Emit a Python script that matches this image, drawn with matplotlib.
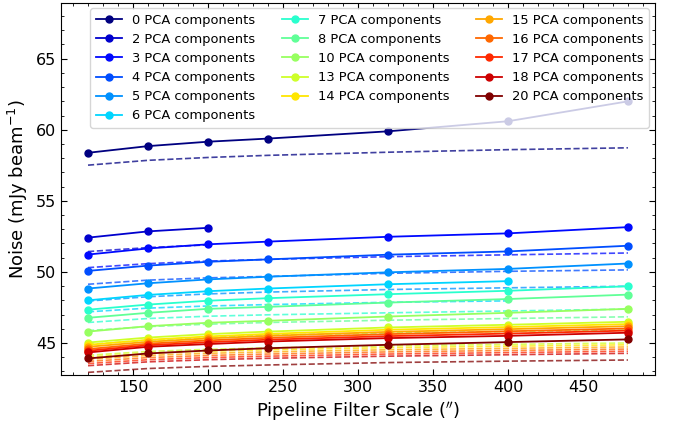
import numpy as np
import matplotlib
matplotlib.use("Agg")
import matplotlib.pyplot as plt
from matplotlib.ticker import MultipleLocator

scales = [120, 160, 200, 240, 320, 400, 480]
n_pca = [0, 2, 3, 4, 5, 6, 7, 8, 10, 13, 14, 15, 16, 17, 18, 20]

# measured noise (solid lines)
measured = {
	0: [58.38, 58.85, 59.16, 59.38, 59.89, 60.60, 62.00],
	2: [52.41, 52.85, 53.10],
	3: [51.22, 51.65, 51.94, 52.13, 52.47, 52.71, 53.15],
	4: [50.07, 50.44, 50.71, 50.88, 51.21, 51.44, 51.84],
	5: [48.83, 49.20, 49.47, 49.66, 49.97, 50.21, 50.59],
	6: [48.00, 48.38, 48.64, 48.83, 49.13, 49.35],
	7: [47.34, 47.70, 47.97, 48.15, 48.43, 48.67, 48.99],
	8: [46.77, 47.12, 47.40, 47.54, 47.84, 48.09, 48.40],
	10: [45.80, 46.18, 46.42, 46.56, 46.86, 47.12, 47.40],
	13: [45.03, 45.38, 45.62, 45.80, 46.09, 46.28, 46.49],
	14: [44.87, 45.22, 45.46, 45.64, 45.93, 46.12, 46.33],
	15: [44.73, 45.08, 45.32, 45.50, 45.78, 45.97, 46.18],
	16: [44.57, 44.95, 45.18, 45.36, 45.62, 45.82, 46.02],
	17: [44.45, 44.84, 45.05, 45.23, 45.48, 45.66, 45.87],
	18: [44.33, 44.73, 44.92, 45.10, 45.34, 45.50, 45.72],
	20: [43.91, 44.26, 44.47, 44.63, 44.87, 45.06, 45.25],
}

# expected noise (dashed lines)
expected = {
	0: [57.51, 57.85, 58.05, 58.20, 58.42, 58.60, 58.73],
	2: [51.43, 51.71, 51.90],
	3: [50.30, 50.58, 50.76, 50.88, 51.07, 51.20, 51.33],
	4: [49.13, 49.42, 49.58, 49.68, 49.90, 50.04, 50.14],
	5: [47.95, 48.25, 48.45, 48.58, 48.76, 48.88, 48.99],
	6: [47.19, 47.45, 47.60, 47.70, 47.86, 47.96],
	7: [46.44, 46.72, 46.88, 46.98, 47.12, 47.25, 47.38],
	8: [45.87, 46.15, 46.32, 46.44, 46.60, 46.72, 46.84],
	10: [44.90, 45.20, 45.40, 45.55, 45.70, 45.80, 45.90],
	13: [44.13, 44.40, 44.55, 44.65, 44.80, 44.90, 45.00],
	14: [44.00, 44.27, 44.42, 44.52, 44.67, 44.77, 44.87],
	15: [43.85, 44.12, 44.27, 44.37, 44.52, 44.62, 44.72],
	16: [43.70, 43.97, 44.12, 44.22, 44.37, 44.47, 44.57],
	17: [43.55, 43.82, 43.97, 44.07, 44.22, 44.32, 44.42],
	18: [43.40, 43.67, 43.82, 43.92, 44.07, 44.17, 44.27],
	20: [42.93, 43.20, 43.35, 43.45, 43.62, 43.72, 43.80],
}

colors = plt.cm.jet(np.linspace(0, 1, len(n_pca)))

fig = plt.figure(figsize=(6.78, 4.28), dpi=100)
ax = fig.add_axes([0.09, 0.124, 0.876, 0.87])

for i, n in enumerate(n_pca):
	m = measured[n]
	e = expected[n]
	ax.plot(scales[:len(m)], m, "-o", color=colors[i], lw=1.3, ms=5,
		label="%d PCA components" % n)
	ax.plot(scales[:len(e)], e, "--", color=colors[i], lw=1.2, alpha=0.75)

ax.set_xlim(102, 498)
ax.set_ylim(42.75, 68.95)
ax.xaxis.set_major_locator(MultipleLocator(50))
ax.xaxis.set_minor_locator(MultipleLocator(10))
ax.yaxis.set_major_locator(MultipleLocator(5))
ax.yaxis.set_minor_locator(MultipleLocator(1))
ax.tick_params(which="both", direction="in", top=True, right=True, labelsize=11.5)
ax.tick_params(which="major", length=4)
ax.tick_params(which="minor", length=2)

ax.set_xlabel(r"Pipeline Filter Scale ($''$)", fontsize=13)
ax.set_ylabel(r"Noise (mJy beam$^{-1}$)", fontsize=13)
ax.legend(ncol=3, loc="upper right", fontsize=9.4, handlelength=2,
	columnspacing=2.0, borderaxespad=0.45, labelspacing=0.47)

fig.savefig("out.png", dpi=100)
